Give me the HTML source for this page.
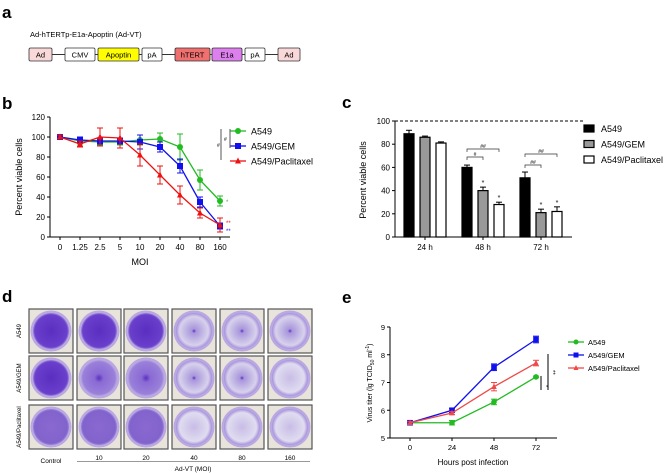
<!DOCTYPE html>
<html><head><meta charset="utf-8"><style>
html,body{margin:0;padding:0;background:#fff;}
svg{display:block;font-family:"Liberation Sans",Arial,sans-serif;}
</style></head><body>
<svg id="fig" width="669" height="473" viewBox="0 0 669 473" xmlns="http://www.w3.org/2000/svg">
<defs>
  <radialGradient id="gDark"><stop offset="0" stop-color="#5a2fc0"/><stop offset="0.9" stop-color="#6a3fcc"/><stop offset="1" stop-color="#9c86d8"/></radialGradient>
  <radialGradient id="gMid"><stop offset="0" stop-color="#5a30c0"/><stop offset="0.25" stop-color="#8a6ad4"/><stop offset="0.9" stop-color="#9a80da"/><stop offset="1" stop-color="#b5a4e0"/></radialGradient>
  <radialGradient id="gLight"><stop offset="0" stop-color="#5a30c0"/><stop offset="0.12" stop-color="#a896dc"/><stop offset="0.8" stop-color="#d8d2ec"/><stop offset="1" stop-color="#a590dc"/></radialGradient>
  <radialGradient id="gPale"><stop offset="0" stop-color="#c8bde6"/><stop offset="0.8" stop-color="#e0dcf0"/><stop offset="1" stop-color="#a590dc"/></radialGradient>
  <radialGradient id="gSpeck"><stop offset="0" stop-color="#8a6ad0"/><stop offset="0.9" stop-color="#8262cc"/><stop offset="1" stop-color="#9a82d8"/></radialGradient>
</defs>
<g font-weight="bold" font-size="17" fill="#000">
<text x="2" y="18">a</text>
<text x="2" y="109">b</text>
<text x="342" y="108">c</text>
<text x="2" y="302">d</text>
<text x="342" y="303">e</text>
</g>
<g id="pa">
<text x="30" y="37" font-size="7.5">Ad-hTERTp-E1a-Apoptin (Ad-VT)</text>
</g>
<g id="pb"></g>
<g id="pc"></g>
<g id="pd"></g>
<g id="pe"></g>
</svg>
<script>
// ---- panel b data
const bCats=["0","1.25","2.5","5","10","20","40","80","160"];
const bA549=[100,96,95,95,97,98,90,57,36];
const bA549Err=[2,3,3,3,5,6,13,10,5];
const bGEM=[100,97,96,96,95,90,71,35,11];
const bGEMErr=[2,3,3,3,7,5,7,5,3];
const bPac=[100,93,100,99,82,62,42,24,12];
const bPacErr=[2,3,9,10,11,9,9,5,7];
const bTicks=[0,20,40,60,80,100,120];
// ---- panel c data
const cCats=["24 h","48 h","72 h"];
const cA549=[89,60,51];
const cA549Err=[3,2,5];
const cGEM=[86,40,21];
const cGEMErr=[1,3,3];
const cPac=[81,28,22];
const cPacErr=[1,2,4];
const cTicks=[0,20,40,60,80,100];
// ---- panel e data
const eCats=[0,24,48,72];
const eA549=[5.55,5.55,6.3,7.2];
const eA549Err=[0.08,0.08,0.1,0.03];
const eGEM=[5.55,6.0,7.55,8.55];
const eGEMErr=[0.05,0.07,0.12,0.12];
const ePac=[5.55,5.9,6.85,7.7];
const ePacErr=[0.05,0.05,0.15,0.1];
const eTicks=[5,6,7,8,9];
// ---- construct
const parts=[["Ad",29,52,"#f8d8d8"],["CMV",65,95,"#fff"],["Apoptin",98,139,"#ffff00"],["pA",142,162,"#fff"],["hTERT",175,210,"#f07070"],["E1a",212,242,"#dd80ee"],["pA",245,265,"#fff"],["Ad",278,300,"#f8d8d8"]];
// ---- plates
const plateRows=["A549","A549/GEM","A549/Paclitaxel"];
const plateCols=["Control","10","20","40","80","160"];
const plateStain=[["gDark","gDark","gDark","gLight","gLight","gLight"],["gDark","gMid","gMid","gLight","gLight","gPale"],["gSpeck","gSpeck","gSpeck","gPale","gPale","gPale"]];

const NS="http://www.w3.org/2000/svg";
function mk(parent,tag,attrs,text){const e=document.createElementNS(NS,tag);for(const k in attrs)e.setAttribute(k,attrs[k]);if(text!==undefined)e.textContent=text;parent.appendChild(e);return e;}

// construct
(function(){const g=document.getElementById('pa');
 mk(g,'line',{x1:29,y1:54.5,x2:300,y2:54.5,stroke:'#333','stroke-width':1});
 parts.forEach(p=>{const r=mk(g,'rect',{x:p[1],y:48,width:p[2]-p[1],height:13,fill:p[3],stroke:'#333','stroke-width':0.8,rx:1.5});
  
  
  mk(g,'text',{x:(p[1]+p[2])/2,y:57.5,'font-size':7.5,'text-anchor':'middle'},p[0]);});
})();

// panel b
(function(){const g=document.getElementById('pb');
 const x0=50,yT=117,yB=237,xE=230;
 const xs=i=>60+i*20, ys=v=>yB-(v/120)*(yB-yT);
 mk(g,'line',{x1:x0,y1:yT,x2:x0,y2:yB,stroke:'#000'});
 mk(g,'line',{x1:x0,y1:yB,x2:xE,y2:yB,stroke:'#000'});
 bTicks.forEach(t=>{mk(g,'line',{x1:x0-3,y1:ys(t),x2:x0,y2:ys(t),stroke:'#000'});mk(g,'text',{x:x0-5,y:ys(t)+3,'font-size':8,'text-anchor':'end'},t);});
 bCats.forEach((c,i)=>{mk(g,'line',{x1:xs(i),y1:yB,x2:xs(i),y2:yB+3,stroke:'#000'});mk(g,'text',{x:xs(i),y:yB+13,'font-size':8,'text-anchor':'middle'},c);});
 mk(g,'text',{x:140,y:265,'font-size':9,'text-anchor':'middle'},'MOI');
 mk(g,'text',{x:22,y:177,'font-size':9,'text-anchor':'middle',transform:'rotate(-90 22 177)'},'Percent viable cells');
 const series=[[bA549,bA549Err,'#22bb22','c','A549'],[bGEM,bGEMErr,'#1010ee','s','A549/GEM'],[bPac,bPacErr,'#ee1111','t','A549/Paclitaxel']];
 series.forEach((s,si)=>{const [v,e,col,m,name]=s;
  const pl=mk(g,'polyline',{points:v.map((d,i)=>xs(i)+','+ys(d)).join(' '),fill:'none',stroke:col,'stroke-width':1.3});
  
  
  v.forEach((d,i)=>{const x=xs(i);mk(g,'line',{x1:x,y1:ys(d+e[i]),x2:x,y2:ys(d-e[i]),stroke:col});
   mk(g,'line',{x1:x-3,y1:ys(d+e[i]),x2:x+3,y2:ys(d+e[i]),stroke:col});mk(g,'line',{x1:x-3,y1:ys(d-e[i]),x2:x+3,y2:ys(d-e[i]),stroke:col});
   marker(g,m,x,ys(d),col,3);});
  const ly=131+si*15;
  mk(g,'line',{x1:230,y1:ly,x2:246,y2:ly,stroke:col,'stroke-width':1.3});marker(g,m,238,ly,col,3);
  const lt=mk(g,'text',{x:251,y:ly+3.5,'font-size':9},name);
  
  
 });
 mk(g,'line',{x1:221,y1:129,x2:221,y2:160,stroke:'#555'});mk(g,'line',{x1:230,y1:129,x2:230,y2:148,stroke:'#555'});
 mk(g,'text',{x:217,y:147,'font-size':5},'#');mk(g,'text',{x:224,y:141,'font-size':5},'#');
 mk(g,'text',{x:226,y:204,'font-size':6,fill:'#22bb22'},'*');
 mk(g,'text',{x:226,y:225,'font-size':6,fill:'#ee1111'},'**');
 mk(g,'text',{x:226,y:233,'font-size':6,fill:'#1010ee'},'**');
})();

function marker(g,m,x,y,col,r){
 if(m==='c')mk(g,'circle',{cx:x,cy:y,r:r,fill:col});
 else if(m==='s')mk(g,'rect',{x:x-r,y:y-r,width:2*r,height:2*r,fill:col});
 else mk(g,'polygon',{points:`${x},${y-r-0.5} ${x-r},${y+r-0.5} ${x+r},${y+r-0.5}`,fill:col});
}

// panel c
(function(){const g=document.getElementById('pc');
 const x0=395,yT=121,yB=237,xE=572;
 const ys=v=>yB-(v/100)*(yB-yT);
 const gx=i=>409+i*58;
 mk(g,'line',{x1:x0,y1:ys(100),x2:xE+12,y2:ys(100),stroke:'#000','stroke-dasharray':'3,2'});
 mk(g,'line',{x1:x0,y1:yT,x2:x0,y2:yB,stroke:'#000'});
 mk(g,'line',{x1:x0,y1:yB,x2:xE,y2:yB,stroke:'#000'});
 cTicks.forEach(t=>{mk(g,'line',{x1:x0-3,y1:ys(t),x2:x0,y2:ys(t),stroke:'#000'});mk(g,'text',{x:x0-5,y:ys(t)+3,'font-size':8,'text-anchor':'end'},t);});
 cCats.forEach((c,i)=>{mk(g,'line',{x1:gx(i)+16,y1:yB,x2:gx(i)+16,y2:yB+3,stroke:'#000'});mk(g,'text',{x:gx(i)+16,y:yB+13,'font-size':8,'text-anchor':'middle'},c);});
 mk(g,'text',{x:366,y:180,'font-size':9,'text-anchor':'middle',transform:'rotate(-90 366 180)'},'Percent viable cells');
 const ser=[[cA549,cA549Err,'#000'],[cGEM,cGEMErr,'#999'],[cPac,cPacErr,'#fff']];
 ser.forEach((s,si)=>{s[0].forEach((v,i)=>{const cx=gx(i)+si*16;
   const b=mk(g,'rect',{x:cx-5,y:ys(v),width:10,height:yB-ys(v),fill:s[2],stroke:'#000','stroke-width':1.2});
   
   
   const t=ys(v+s[1][i]);mk(g,'line',{x1:cx,y1:ys(v),x2:cx,y2:t,stroke:'#000'});mk(g,'line',{x1:cx-3,y1:t,x2:cx+3,y2:t,stroke:'#000'});
   if(i>0&&si>0)mk(g,'text',{x:cx,y:t-2,'font-size':7,'text-anchor':'middle'},'*');});});
 // brackets
 [[467,483,157,'#'],[467,499,149,'##'],[525,541,165,'##'],[525,557,154,'##']].forEach(b=>{
  mk(g,'path',{d:`M${b[0]},${b[2]+3}V${b[2]}H${b[1]}V${b[2]+3}`,fill:'none',stroke:'#333','stroke-width':0.7});
  mk(g,'text',{x:(b[0]+b[1])/2,y:b[2]-1,'font-size':5,'text-anchor':'middle'},b[3]);});
 const names=['A549','A549/GEM','A549/Paclitaxel'];
 names.forEach((n,i)=>{const y=129+i*15.5;mk(g,'rect',{x:584,y:y-4,width:10,height:7,fill:ser[i][2],stroke:'#000','stroke-width':1.2});
  const lt=mk(g,'text',{x:601,y:y+3,'font-size':9},n);
  
  });
})();

// panel d
(function(){const g=document.getElementById('pd');
 const cx=[29,77,124,172,220,268], ry=[309,356,405], s=44;
 plateRows.forEach((r,ri)=>{
  mk(g,'text',{x:21,y:ry[ri]+22,'font-size':6,'text-anchor':'middle',transform:`rotate(-90 21 ${ry[ri]+22})`},r);
  plateCols.forEach((c,ci)=>{const x=cx[ci],y=ry[ri];
   const fr=mk(g,'rect',{x:x,y:y,width:s,height:s,fill:'#e8e4dc',stroke:'#555','stroke-width':1.2});
   
   
   mk(g,'circle',{cx:x+s/2,cy:y+s/2,r:20.5,fill:'#b9a8e2'});
   mk(g,'circle',{cx:x+s/2,cy:y+s/2,r:18,fill:`url(#${plateStain[ri][ci]})`});
  });});
 plateCols.forEach((c,ci)=>mk(g,'text',{x:cx[ci]+22,y:ci?460:463,'font-size':6.5,'text-anchor':'middle'},c));
 mk(g,'line',{x1:77,y1:461.5,x2:310,y2:461.5,stroke:'#777','stroke-width':0.7});
 mk(g,'text',{x:193,y:471,'font-size':6.5,'text-anchor':'middle'},'Ad-VT (MOI)');
})();

// panel e
(function(){const g=document.getElementById('pe');
 const x0=390,yT=327,yB=438,xE=557;
 const xs=h=>410+h/24*42, ys=v=>yB-(v-5)/4*(yB-yT);
 mk(g,'line',{x1:x0,y1:yT,x2:x0,y2:yB,stroke:'#000'});
 mk(g,'line',{x1:x0,y1:yB,x2:xE,y2:yB,stroke:'#000'});
 eTicks.forEach(t=>{mk(g,'line',{x1:x0-3,y1:ys(t),x2:x0,y2:ys(t),stroke:'#000'});mk(g,'text',{x:x0-5,y:ys(t)+3,'font-size':7.5,'text-anchor':'end'},t);});
 eCats.forEach(h=>{mk(g,'line',{x1:xs(h),y1:yB,x2:xs(h),y2:yB+3,stroke:'#000'});mk(g,'text',{x:xs(h),y:yB+12,'font-size':7.5,'text-anchor':'middle'},h);});
 mk(g,'text',{x:473,y:465,'font-size':8,'text-anchor':'middle'},'Hours post infection');
 const ty=mk(g,'text',{x:372,y:383,'font-size':7,'text-anchor':'middle',transform:'rotate(-90 372 383)'},'Virus titer (lg TCID');
 mk(ty,'tspan',{'font-size':5,dy:2},'50');mk(ty,'tspan',{dy:-2},' ml');mk(ty,'tspan',{'font-size':5,dy:-3},'-1');mk(ty,'tspan',{dy:3},')');
 const series=[[eA549,eA549Err,'#22bb22','c','A549'],[eGEM,eGEMErr,'#1010ee','s','A549/GEM'],[ePac,ePacErr,'#f04848','t','A549/Paclitaxel']];
 series.forEach((s,si)=>{const [v,e,col,m,name]=s;
  const pl=mk(g,'polyline',{points:v.map((d,i)=>xs(eCats[i])+','+ys(d)).join(' '),fill:'none',stroke:col,'stroke-width':1.3});
  
  
  v.forEach((d,i)=>{const x=xs(eCats[i]);mk(g,'line',{x1:x,y1:ys(d+e[i]),x2:x,y2:ys(d-e[i]),stroke:col});
   mk(g,'line',{x1:x-3,y1:ys(d+e[i]),x2:x+3,y2:ys(d+e[i]),stroke:col});mk(g,'line',{x1:x-3,y1:ys(d-e[i]),x2:x+3,y2:ys(d-e[i]),stroke:col});
   marker(g,m,x,ys(d),col,2.8);});
  const ly=342+si*13;
  mk(g,'line',{x1:568,y1:ly,x2:584,y2:ly,stroke:col,'stroke-width':1.3});marker(g,m,576,ly,col,2.5);
  const lt=mk(g,'text',{x:588,y:ly+3,'font-size':7.5},name);
  
  
 });
 mk(g,'line',{x1:541,y1:376,x2:541,y2:390,stroke:'#000','stroke-width':1});
 mk(g,'line',{x1:548,y1:354,x2:548,y2:390,stroke:'#000','stroke-width':1});
 mk(g,'text',{x:544,y:385,'font-size':6,transform:'rotate(90 544 385)'},'*');
 mk(g,'text',{x:551,y:370,'font-size':6,transform:'rotate(90 551 370)'},'**');
})();
</script>
</body></html>
